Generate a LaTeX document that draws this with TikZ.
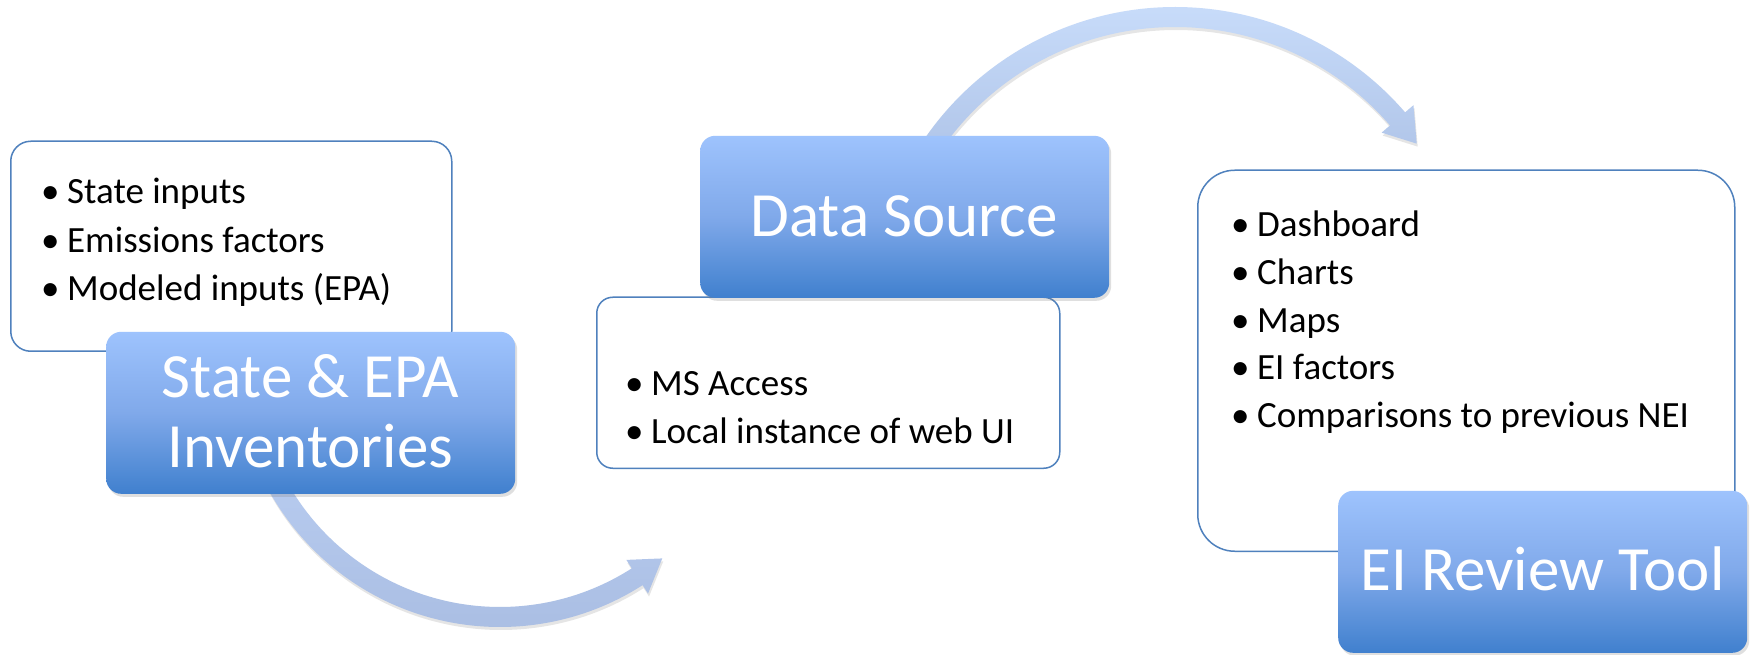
\documentclass[tikz,border=0pt]{standalone}
\usepackage{fontspec}
\setmainfont{Carlito}
\usetikzlibrary{shadows}
\definecolor{boxline}{RGB}{79,129,189}
\definecolor{btop}{RGB}{158,195,253}
\definecolor{bmid}{RGB}{128,169,234}
\definecolor{bbot}{RGB}{64,128,206}
\definecolor{aonetop}{RGB}{184,204,240}
\definecolor{aonebot}{RGB}{170,190,227}
\definecolor{atwotop}{RGB}{200,220,250}
\definecolor{atwobot}{RGB}{175,196,232}
\tikzset{
  whitebox/.style={draw=boxline, line width=1.5pt, fill=white, rounded corners=20pt, inner sep=0pt, anchor=south west},
  bluebox/.style={rounded corners=15pt, inner sep=0pt, anchor=south west, minimum width=409pt, minimum height=162pt,
    top color=btop, bottom color=bbot, middle color=bmid,
    drop shadow={shadow xshift=2pt, shadow yshift=-3pt, opacity=0.25}},
  titletext/.style={text=white, font=\fontsize{63}{70}\selectfont, anchor=base, inner sep=0pt},
  bullettext/.style={text=black, font=\fontsize{37}{48}\selectfont, anchor=base west, inner sep=0pt},
  arrowone/.style={top color=aonetop, bottom color=aonebot, drop shadow={shadow xshift=1pt, shadow yshift=-3pt, opacity=0.2}},
  arrowtwo/.style={top color=atwotop, bottom color=atwobot, drop shadow={shadow xshift=1pt, shadow yshift=-3pt, opacity=0.2}},
}
\newcommand{\bul}{\makebox[22pt][l]{\hspace{-4pt}\textbullet}}
\begin{document}
\begin{tikzpicture}[x=1pt,y=1pt]
\useasboundingbox (0,0) rectangle (1750,654);
\fill[white] (0,0) rectangle (1750,654);

% curved arrows
\begin{scope}[shift={(500,291)}]
  \shade[arrowone] (205:264pt) arc[start angle=205, end angle=302.7, radius=264pt]
    -- (302.7:274pt) -- (309.7:254pt) -- (302.7:234pt) -- (302.7:244pt)
    arc[start angle=302.7, end angle=205, radius=244pt] -- cycle;
\end{scope}
\begin{scope}[shift={(1175,343)}]
  \shade[arrowtwo] (148:304pt) arc[start angle=148, end angle=40.8, radius=304pt]
    -- (40.8:315pt) -- (34.7:294pt) -- (40.8:273pt) -- (40.8:284pt)
    arc[start angle=40.8, end angle=148, radius=284pt] -- cycle;
\end{scope}

% boxes
\node[whitebox, minimum width=441pt, minimum height=210pt] (w1) at (10,302) {};
\node[bluebox] (b1) at (106,160) {};
\node[whitebox, rounded corners=16pt, minimum width=463pt, minimum height=171pt] (w2) at (596,185) {};
\node[bluebox] (b2) at (700,356) {};
\node[whitebox, rounded corners=37pt, minimum width=537pt, minimum height=381pt] (w3) at (1197,102) {};
\node[bluebox] (b3) at (1338,1) {};

% titles
\node[titletext] (t1a) at (310.5,257) {State \& EPA};
\node[titletext] (t1b) at (310.5,187) {Inventories};
\node[titletext] (t2) at (904,417) {Data Source};
\node[titletext] (t3) at (1542.5,64) {EI Review Tool};

% bullets
\node[bullettext] (l1a) at (45,450) {\bul State inputs};
\node[bullettext] (l1b) at (45,401) {\bul Emissions factors};
\node[bullettext] (l1c) at (45,353) {\bul Modeled inputs (EPA)};

\node[bullettext] (l2a) at (629,259) {\bul MS Access};
\node[bullettext] (l2b) at (629,211) {\bul Local instance of web UI};

\node[bullettext] (l3a) at (1235,417) {\bul Dashboard};
\node[bullettext] (l3b) at (1235,369) {\bul Charts};
\node[bullettext] (l3c) at (1235,321) {\bul Maps};
\node[bullettext] (l3d) at (1235,275) {\bul EI factors};
\node[bullettext] (l3e) at (1235,227) {\bul Comparisons to previous NEI};
\end{tikzpicture}
\end{document}
